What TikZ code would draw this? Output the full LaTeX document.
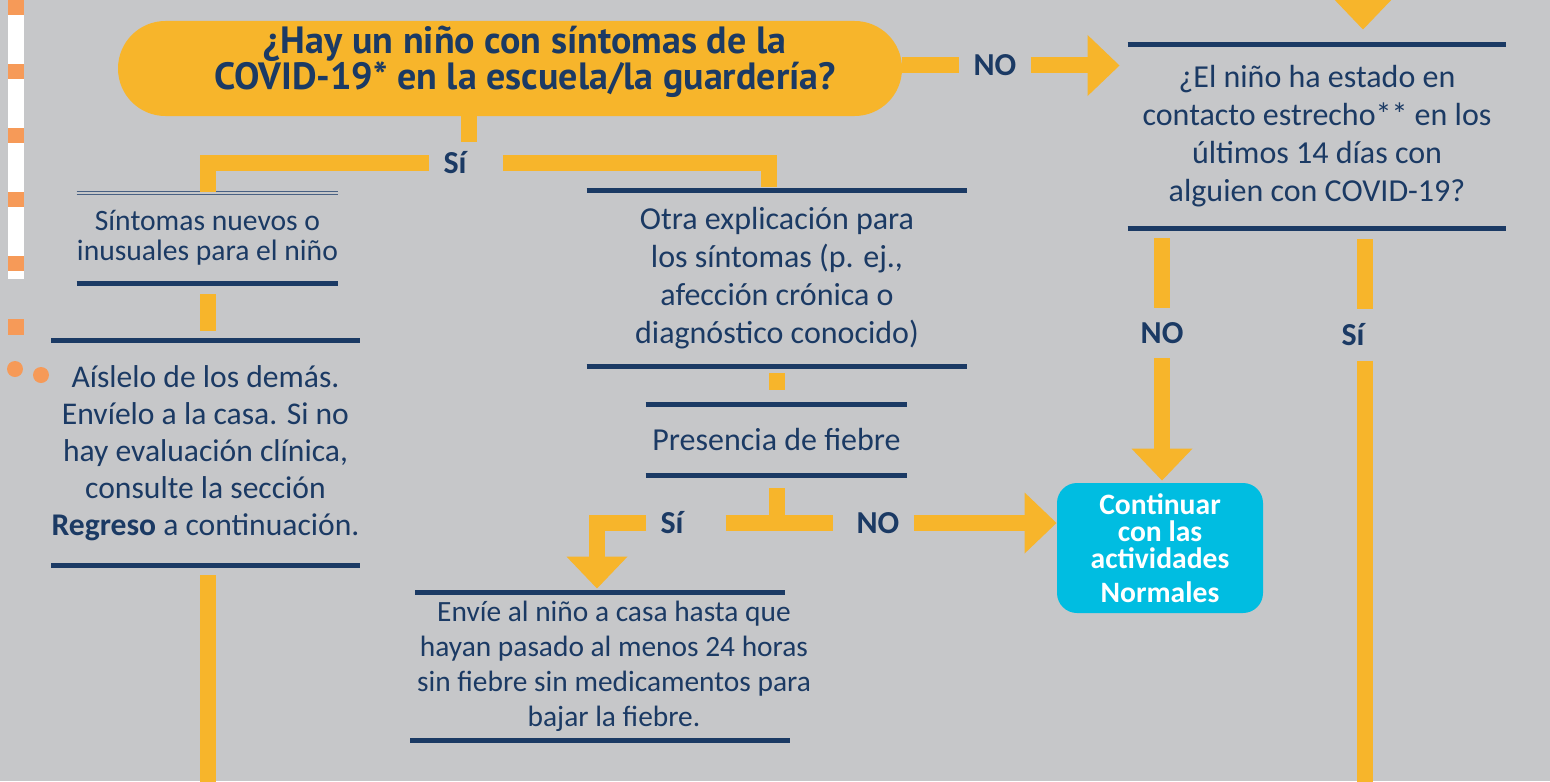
\documentclass[tikz,border=0pt]{standalone}
\usepackage{fontspec}
\setmainfont{Carlito}
\newfontfamily\titlefont{PT Sans}
\usetikzlibrary{arrows.meta,positioning}

\definecolor{bggray}{HTML}{C6C7C9}
\definecolor{gold}{HTML}{F7B52B}
\definecolor{navy}{HTML}{1B3A64}
\definecolor{skyblue}{HTML}{00BDE1}
\definecolor{peach}{HTML}{F69A58}

\begin{document}
\begin{tikzpicture}[x=0.5pt, y=-0.5pt,
    bar/.style = {gold, line width=8pt},
    barrow/.style = {bar, -{Triangle[length=16pt,width=29.5pt]}},
    rule/.style = {navy, line width=2.6pt},
    box/.style = {inner sep=0pt, text=navy, align=center, font=\fontsize{16}{19}\selectfont},
    lbl/.style = {inner sep=7pt, text=navy, font=\fontsize{16}{18}\selectfont\bfseries}]
    \fill[bggray] (0,0) rectangle (1550,781);
    \useasboundingbox (0,0) rectangle (1550,781);

    % page decoration on the left
    \fill[white] (8,0) rectangle (24,279);
    \foreach \y in {0,64,128,192,256}
        \fill[peach] (8,\y) rectangle (24,\y+15);
    \fill[peach] (8,319) rectangle (24,335);
    \fill[peach] (15,369) circle (8) (41,375) circle (8);

    % question 1
    \node[fill=gold, rounded corners=23.7pt, minimum width=392pt, minimum height=47.5pt] (q1) at (510,68.5) {};
    \node[text=navy, align=center, font=\titlefont\bfseries\fontsize{19}{18}\selectfont] (q1txt) at (525,62) {¿Hay un niño con síntomas de la\\COVID-19* en la escuela/la guardería?};

    % boxes between rules
    \node[box, minimum width=189pt, minimum height=91.5pt] (q2) at (1317,136.5) {¿El niño ha estado en\\contacto estrecho** en los\\últimos 14 días con\\alguien con COVID-19?};
    \node[box, minimum width=130.5pt, minimum height=45.5pt, font=\fontsize{14.8}{15}\selectfont] (sint) at (207.5,237.5) {Síntomas nuevos o\\inusuales para el niño};
    \node[box, minimum width=153.5pt, minimum height=112pt, font=\fontsize{15.8}{18.5}\selectfont] (aisl) at (205.5,453) {Aíslelo de los demás.\\Envíelo a la casa. Si no\\hay evaluación clínica,\\consulte la sección\\\textbf{Regreso} a continuación.};
    \node[box, minimum width=190pt, minimum height=87.5pt] (otra) at (777,278.5) {Otra explicación para\\los síntomas (p. ej.,\\afección crónica o\\diagnóstico conocido)};
    \node[box, minimum width=130.5pt, minimum height=35pt] (pres) at (776.5,440) {Presencia de fiebre};
    \node[box, minimum height=73.5pt, font=\fontsize{14.7}{17.5}\selectfont] (envie) at (614,666.5) {Envíe al niño a casa hasta que\\hayan pasado al menos 24 horas\\sin fiebre sin medicamentos para\\bajar la fiebre.};
    \node[fill=skyblue, rounded corners=10pt, minimum width=103pt, minimum height=65pt, text=white, align=center,
          font=\fontsize{14.8}{13.6}\selectfont\bfseries] (cont) at (1160,548) {Continuar\\con las\\actividades\\[3.5pt]Normales};

    \foreach \b in {q2,aisl,otra,pres}
        \draw[rule] (\b.north west) -- (\b.north east) (\b.south west) -- (\b.south east);
    \draw[rule] ([xshift=-0.8pt]envie.north west) -- ([xshift=-13pt]envie.north east)
        ([xshift=-3.3pt]envie.south west) -- ([xshift=-10.8pt]envie.south east);
    \draw[rule] (sint.south west) -- (sint.south east);
    \draw[navy!80, line width=0.6pt] (sint.north west) -- (sint.north east)
        ([yshift=-1.4pt]sint.north west) -- ([yshift=-1.4pt]sint.north east);

    % labels on the connectors
    \node[lbl] (no1) at (995,65.5) {NO};
    \node[lbl] (si1) at (455,163) {Sí};
    \node[lbl] (no2) at (1162,333) {NO};
    \node[lbl] (si3) at (1353,335) {Sí};
    \node[lbl] (si2) at (672,523) {Sí};
    \node[lbl] (no3) at (878,523) {NO};
    \coordinate (split) at (469,142);
    \coordinate (rdown) at (1365,800);
    \coordinate (rtop) at (1363,-40);

    % connectors
    \draw[bar] (q1.east |- no1) -- (no1.west);
    \draw[barrow, shorten >=4pt] (no1.east) -- (no1.east -| q2.west);
    \draw[barrow, shorten >=7.5pt] (rtop) -- (rtop |- q2.north);
    \draw[bar] (q1.south -| split) -- (split);
    \draw[bar] (si1.west) -| (sint.north);
    \draw[bar, shorten <=11pt, shorten >=2pt] (si1.east) -| ([xshift=-4pt]otra.north);
    \draw[bar, shorten <=5.5pt, shorten >=5pt] (sint.south) -- (sint.south |- aisl.north);
    \draw[bar, shorten <=5pt] (aisl.south -| sint) -- ++(0,230);
    \draw[bar, shorten <=3.5pt, shorten >=7.5pt] (otra.south) -- (otra.south |- pres.north);
    \draw[bar, shorten <=6.5pt] (pres.south) -- (pres.south |- si2);
    \draw[bar, shorten <=14pt, shorten >=4.5pt] (si2.east) -- (no3.west);
    \draw[barrow, shorten >=2pt] (si2.west) -| ([xshift=-8.5pt]envie.north);
    \draw[barrow] (no3.east) -- (no3.east -| cont.west);
    \draw[bar, shorten <=5pt] (q2.south -| no2) -- (no2.north);
    \draw[barrow, shorten >=1pt] (no2.south) -- (no2.south |- cont.north);
    \draw[bar, shorten <=5.5pt] (q2.south -| rdown) -- (rdown |- si3.north);
    \draw[bar] (rdown |- si3.south) -- (rdown);
\end{tikzpicture}
\end{document}
